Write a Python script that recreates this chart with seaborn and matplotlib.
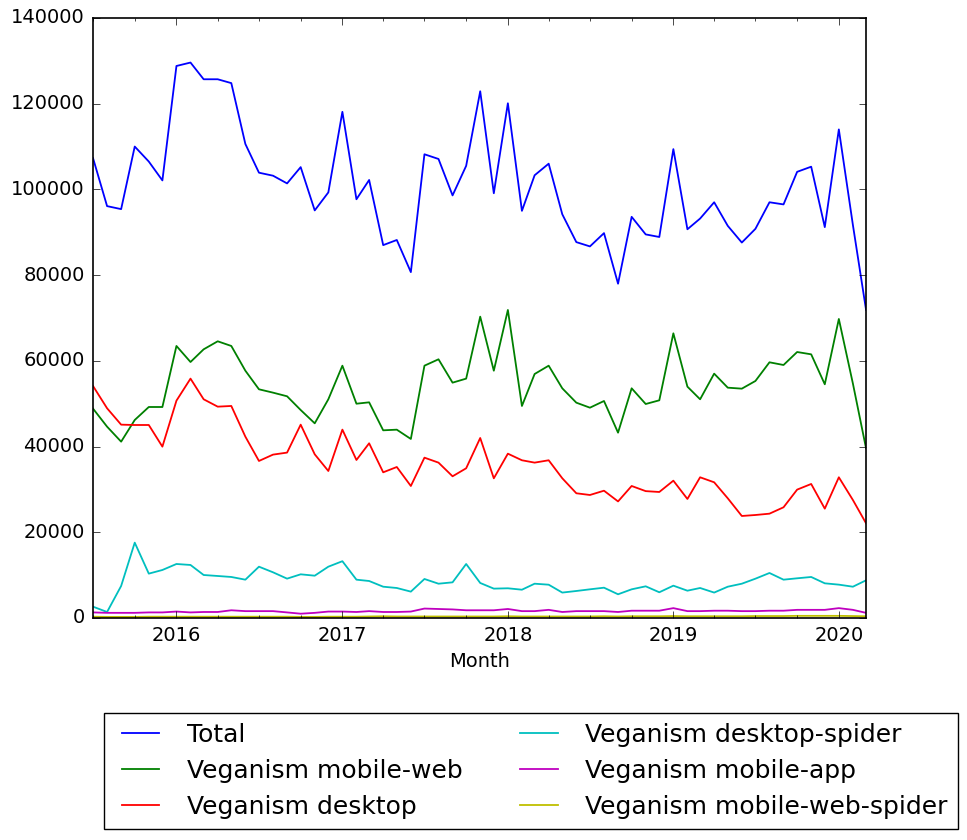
import pandas as pd
import numpy as np
import matplotlib
matplotlib.use("Agg")
import matplotlib.pyplot as plt
import matplotlib.dates as mdates
import seaborn as sns

# monthly page views, Jul 2015 - Mar 2020
months = pd.date_range('2015-07-01', '2020-03-01', freq='MS')

total = [107300, 96100, 95400, 110000, 106500, 102100,
         128800, 129600, 125700, 125700, 124800, 110600, 103900, 103200, 101400, 105200, 95100, 99300,
         118100, 97700, 102200, 87000, 88200, 80700, 108200, 107100, 98600, 105500, 122900, 99100,
         120100, 95000, 103300, 106000, 94200, 87700, 86700, 89800, 78000, 93600, 89500, 88900,
         109400, 90700, 93200, 97000, 91500, 87600, 90800, 97000, 96500, 104100, 105300, 91200,
         114000, 91700, 71900]

mobile_web = [48850, 44640, 41140, 46200, 49230, 49230,
              63470, 59730, 62690, 64560, 63470, 57700, 53360, 52580, 51730, 48530, 45420, 51030,
              58870, 50000, 50320, 43790, 43940, 41770, 58870, 60360, 54910, 55850, 70310, 57700,
              71870, 49470, 56930, 58870, 53590, 50240, 49070, 50630, 43240, 53590, 49930, 50790,
              66420, 53980, 51030, 57010, 53740, 53510, 55300, 59660, 59030, 62060, 61520, 54530,
              69770, 54700, 39600]

desktop = [54130, 48930, 45110, 45030, 45030, 39980,
           50710, 55850, 51030, 49310, 49470, 42310, 36640, 38120, 38590, 45110, 38190, 34300,
           43950, 36870, 40760, 33990, 35230, 30800, 37410, 36250, 33060, 34930, 42000, 32590,
           38340, 36800, 36250, 36800, 32600, 29100, 28700, 29700, 27200, 30800, 29600, 29400,
           32040, 27770, 32830, 31660, 27930, 23800, 24030, 24340, 25830, 29950, 31270, 25510,
           32830, 27530, 22100]

desktop_spider = [2640, 1400, 7470, 17580, 10350, 11200,
                  12600, 12370, 10030, 9800, 9570, 8940, 11970, 10660, 9180, 10190, 9870, 11970,
                  13250, 8940, 8630, 7300, 7000, 6150, 9100, 8000, 8320, 12600, 8170, 6850,
                  6930, 6600, 8000, 7770, 5930, 6300, 6690, 7070, 5530, 6690, 7390, 6000,
                  7540, 6370, 7000, 5930, 7300, 8000, 9170, 10500, 8940, 9260, 9570, 8090,
                  7780, 7300, 8790]

mobile_app = [1300, 1200, 1200, 1200, 1300, 1300,
              1500, 1300, 1400, 1400, 1800, 1600, 1600, 1600, 1300, 1000, 1200, 1500,
              1500, 1400, 1600, 1400, 1400, 1500, 2200, 2100, 2000, 1800, 1800, 1800,
              2100, 1600, 1600, 1900, 1400, 1600, 1600, 1600, 1400, 1700, 1700, 1700,
              2300, 1600, 1600, 1700, 1700, 1600, 1600, 1700, 1700, 1900, 1900, 1900,
              2300, 1900, 1200]

mobile_web_spider = [300, 250, 250, 250, 300, 300,
                     300, 300, 300, 300, 300, 300, 300, 300, 300, 250, 250, 300,
                     300, 300, 350, 400, 350, 350, 350, 350, 350, 350, 350, 350,
                     400, 350, 350, 350, 350, 350, 350, 400, 350, 400, 400, 400,
                     450, 400, 400, 400, 400, 400, 450, 450, 450, 500, 500, 500,
                     500, 450, 400]

series_names = ['Total', 'Veganism mobile-web', 'Veganism desktop',
                'Veganism desktop-spider', 'Veganism mobile-app', 'Veganism mobile-web-spider']
series_values = [total, mobile_web, desktop, desktop_spider, mobile_app, mobile_web_spider]
colors = ['#0000ff', '#008000', '#ff0000', '#00bfbf', '#bf00bf', '#bfbf00']

df = pd.concat([pd.DataFrame({'Month': months, 'views': vals, 'series': name})
                for name, vals in zip(series_names, series_values)], ignore_index=True)

plt.style.use('classic')
plt.rcParams['font.family'] = ['DejaVu Sans']
plt.rcParams['font.size'] = 14
plt.rcParams['xtick.major.size'] = 5
plt.rcParams['xtick.minor.size'] = 2.5
plt.rcParams['ytick.major.size'] = 5
plt.rcParams['xtick.major.pad'] = 6
plt.rcParams['ytick.major.pad'] = 6

fig = plt.figure(figsize=(9.67, 8.4), dpi=100, facecolor='white')
ax = fig.add_axes([0.0962, 0.2643, 0.7994, 0.7143])

sns.lineplot(data=df, x='Month', y='views', hue='series', hue_order=series_names,
             palette=colors, linewidth=1.3, ax=ax, legend=True)

ax.set_xlim(months[0], months[-1])
ax.set_ylim(0, 140000)
ax.set_yticks(np.arange(0, 140001, 20000))
ax.xaxis.set_major_locator(mdates.YearLocator())
ax.xaxis.set_major_formatter(mdates.DateFormatter('%Y'))
ax.xaxis.set_minor_locator(mdates.MonthLocator(bymonth=[1, 4, 7, 10]))
ax.set_xlabel('Month')
ax.set_ylabel('')
for spine in ax.spines.values():
    spine.set_linewidth(1.2)

handles, labels = ax.get_legend_handles_labels()
ax.get_legend().remove()
leg = fig.legend(handles, labels, loc='upper center', bbox_to_anchor=(0.549, 0.166),
                 ncol=2, fontsize=18, labelspacing=0.48, handlelength=2.1,
                 frameon=True, fancybox=False)
leg.get_frame().set_edgecolor('black')

fig.savefig('out.png', dpi=100, facecolor='white')
